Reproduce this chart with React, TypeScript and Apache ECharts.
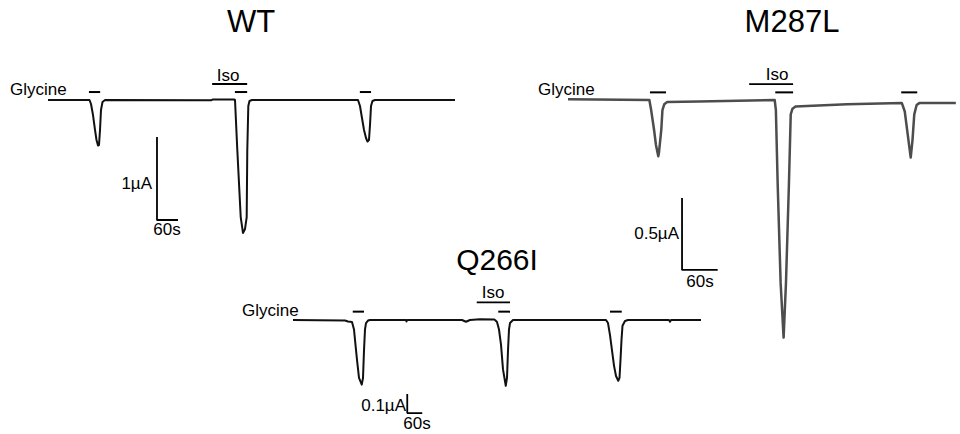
import React, { useEffect, useRef } from "react";
import * as echarts from "echarts";

// ---------- DATA (time in s, current in µA) ----------
const PANEL_NAMES = ["WT", "M287L", "Q266I"];

const WT_TIME = [0, 118.6, 122.9, 128.6, 134.3, 138.6, 142.9, 145.7, 148.6, 151.4, 155.7, 162.9, 465.7, 470, 531.4, 534.3, 540.9, 550.6, 557.1, 562.9, 567.7, 569.4, 572.3, 575.7, 582.9, 885.7, 891.4, 897.1, 902.9, 908.6, 912.9, 917.1, 920, 922.9, 927.1, 934.3, 1162.9];
const WT_CURRENT = [0, 0, -0.048, -0.181, -0.361, -0.482, -0.548, -0.542, -0.361, -0.12, -0.024, 0, -0.004, 0.006, 0.006, 0, -0.602, -1.41, -1.602, -1.554, -1.41, -0.602, -0.072, -0.012, 0, 0, -0.072, -0.217, -0.361, -0.458, -0.5, -0.482, -0.301, -0.072, -0.012, 0, 0];
const WT_GLYCINE = [[117, 149], [534, 569], [891, 923]];
const WT_ISO = [469, 569];

const M287L_TIME = [0, 137, 140, 145, 148, 152, 153, 157, 159, 162, 167, 220, 348, 350, 353, 358, 363, 367, 372, 375, 378, 383, 470, 562, 567, 572, 577, 580, 583, 587, 592, 653];
const M287L_CURRENT = [0.005, 0, -0.07, -0.21, -0.31, -0.39, -0.37, -0.21, -0.07, -0.03, -0.014, -0.01, 0, -0.07, -0.58, -1.27, -1.65, -1.27, -0.58, -0.1, -0.06, -0.045, -0.03, -0.02, -0.08, -0.24, -0.4, -0.28, -0.1, -0.035, -0.02, -0.02];
const M287L_GLYCINE = [[138, 165], [349, 379], [561, 588]];
const M287L_ISO = [305, 379];

const Q266I_TIME = [0, 208, 220, 236, 244, 248, 256, 264, 275, 280, 284, 288, 292, 300, 308, 452, 454, 456, 676, 692, 708, 748, 804, 808, 816, 824, 832, 840, 851, 856, 860, 864, 868, 880, 1252, 1260, 1268, 1276, 1284, 1292, 1301, 1306, 1310, 1314, 1318, 1328, 1340, 1504, 1508, 1512, 1632];
const Q266I_CURRENT = [0, -0.003, -0.008, -0.01, -0.05, -0.105, -0.21, -0.305, -0.34, -0.305, -0.16, -0.05, -0.016, -0.003, 0, 0, -0.008, 0, 0, -0.009, 0, 0.004, 0.003, 0, -0.01, -0.05, -0.13, -0.26, -0.346, -0.305, -0.16, -0.05, -0.016, 0, 0, -0.016, -0.08, -0.16, -0.24, -0.295, -0.32, -0.305, -0.21, -0.105, -0.03, -0.005, 0, 0, -0.009, 0, 0];
const Q266I_GLYCINE = [[239, 284], [821, 868], [1268, 1315]];
const Q266I_ISO = [735, 868];

// scale bars: length in s, length in µA
const SCALE_TIME_S = [60, 60, 60];
const SCALE_CURRENT_UA = [1, 0.5, 0.1];
const SCALE_LABELS = ["1µA", "0.5µA", "0.1µA"];
const TIME_LABEL = "60s";

// ---------- LAYOUT ----------
const FONT = "'Liberation Sans', Arial, sans-serif";
const PANELS = [
  { time: WT_TIME, current: WT_CURRENT, gly: WT_GLYCINE, iso: WT_ISO, x0: 48, y0: 100, pps: 0.35, ppu: 83, tMax: 1200, yMin: -2, yMax: 0.5, glyLvl: 0.096, isoLvl: 0.193, scaleAt: [311.4, -1.446], color: "#111", width: 2,
    title: [251, 21, 31], glyText: [10, 89], isoText: [228, 75], uaText: [152, 183], sText: [167, 229] },
  { time: M287L_TIME, current: M287L_CURRENT, gly: M287L_GLYCINE, iso: M287L_ISO, x0: 568, y0: 100, pps: 0.6, ppu: 144, tMax: 660, yMin: -1.8, yMax: 0.3, glyLvl: 0.053, isoLvl: 0.11, scaleAt: [192, -1.18], color: "#4d4d4d", width: 2.5,
    title: [792, 21, 31], glyText: [538, 89], isoText: [777, 74], uaText: [679, 233], sText: [700, 281] },
  { time: Q266I_TIME, current: Q266I_CURRENT, gly: Q266I_GLYCINE, iso: Q266I_ISO, x0: 293, y0: 320, pps: 0.25, ppu: 190, tMax: 1640, yMin: -0.6, yMax: 0.1, glyLvl: 0.044, isoLvl: 0.093, scaleAt: [457, -0.49], color: "#111", width: 2,
    title: [497, 259, 30], glyText: [242, 310], isoText: [493, 292], uaText: [406, 405], sText: [417, 423] },
];

function buildOption() {
  const grid: any[] = [];
  const xAxis: any[] = [];
  const yAxis: any[] = [];
  const series: any[] = [];
  const graphic: any[] = [];
  PANELS.forEach((p, k) => {
    grid.push({ left: p.x0, top: p.y0 - p.yMax * p.ppu, width: p.tMax * p.pps, height: (p.yMax - p.yMin) * p.ppu, containLabel: false });
    xAxis.push({ type: "value", gridIndex: k, min: 0, max: p.tMax, show: false });
    yAxis.push({ type: "value", gridIndex: k, min: p.yMin, max: p.yMax, show: false });
    const base = { type: "line", xAxisIndex: k, yAxisIndex: k, showSymbol: false, symbol: "none", silent: true, clip: false, animation: false };
    series.push({ ...base, name: PANEL_NAMES[k], data: p.time.map((t, j) => [t, p.current[j]]), lineStyle: { color: p.color, width: p.width, join: "round" } });
    p.gly.forEach((seg) => {
      series.push({ ...base, data: [[seg[0], p.glyLvl], [seg[1], p.glyLvl]], lineStyle: { color: "#000", width: 2 } });
    });
    series.push({ ...base, data: [[p.iso[0], p.isoLvl], [p.iso[1], p.isoLvl]], lineStyle: { color: "#000", width: 1.8 } });
    const [st, si] = p.scaleAt;
    series.push({ ...base, data: [[st, si + SCALE_CURRENT_UA[k]], [st, si], [st + SCALE_TIME_S[k], si]], lineStyle: { color: "#000", width: 1.8 } });

    const txt = (x: number, y: number, text: string, size: number, align: string) => ({
      type: "text", x, y, silent: true,
      style: { text, fontSize: size, fontFamily: FONT, fill: "#000", align, verticalAlign: "middle" },
    });
    graphic.push(txt(p.title[0], p.title[1], PANEL_NAMES[k], p.title[2], "center"));
    graphic.push(txt(p.glyText[0], p.glyText[1], "Glycine", 17, "left"));
    graphic.push(txt(p.isoText[0], p.isoText[1], "Iso", 17, "center"));
    graphic.push(txt(p.uaText[0], p.uaText[1], SCALE_LABELS[k], 17, "right"));
    graphic.push(txt(p.sText[0], p.sText[1], TIME_LABEL, 17, "center"));
  });
  return { animation: false, backgroundColor: "#fff", grid, xAxis, yAxis, series, graphic };
}

export default function App() {
  const ref = useRef<HTMLDivElement>(null);
  useEffect(() => {
    if (!ref.current) return;
    const chart = echarts.init(ref.current, null, { renderer: "svg" });
    chart.setOption(buildOption() as any);
    return () => chart.dispose();
  }, []);
  return <div ref={ref} style={{ position: "absolute", left: 0, top: 0, width: 960, height: 434, background: "#fff" }} />;
}
